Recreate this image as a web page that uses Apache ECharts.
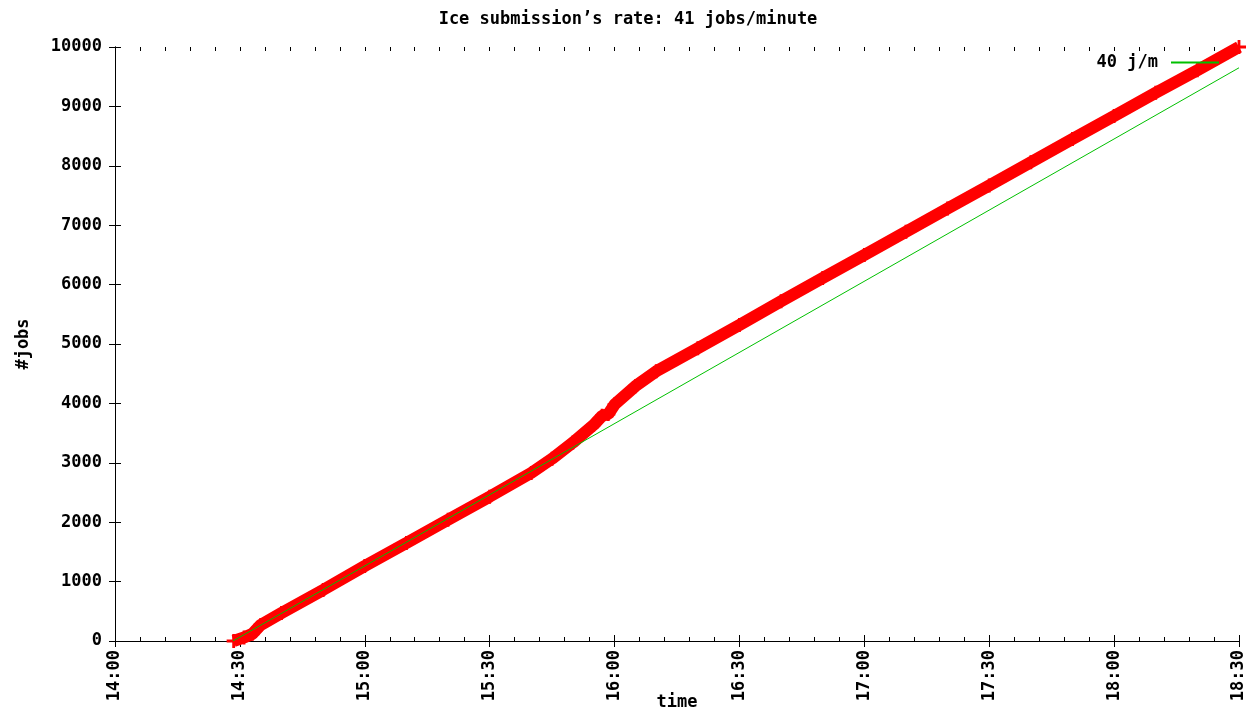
<!DOCTYPE html>
<html>
<head>
<meta charset="utf-8">
<script src="https://cdn.jsdelivr.net/npm/echarts@6/dist/echarts.min.js"></script>
<style>
html,body{margin:0;padding:0;background:#fff;}
#chart{width:1256px;height:711px;}
</style>
</head>
<body>
<div id="chart"></div>
<script>
// ---- data ----
const titleText = "Ice submission\u2019s rate: 41 jobs/minute";
const xTickLabels = ['14:00','14:30','15:00','15:30','16:00','16:30','17:00','17:30','18:00','18:30'];
const yTickLabels = ['0','1000','2000','3000','4000','5000','6000','7000','8000','9000','10000'];

// measured jobs submitted (red "+" points)
const jobTimes = ['14:28:30','14:31:00','14:33:00','14:35:00','14:40:00','14:50:00','15:00:00','15:10:00',
  '15:20:00','15:30:00','15:40:00','15:45:00','15:50:00','15:55:00','15:57:00','15:58:30','16:00:00',
  '16:05:00','16:10:00','16:20:00','16:30:00','16:40:00','16:50:00','17:00:00','17:10:00','17:20:00',
  '17:30:00','17:40:00','17:50:00','18:00:00','18:10:00','18:20:00','18:30:00'];
const jobCounts = [0,60,120,270,470,860,1263,1650,
  2040,2430,2830,3070,3340,3640,3790,3820,3980,
  4290,4540,4930,5320,5720,6110,6500,6890,7280,
  7670,8060,8450,8840,9230,9610,10000];

// fitted line "40 j/m"
const fitName = '40 j/m';
const fitTimes = ['14:28:20','18:30:00'];
const fitCounts = [0,9650];

// ---- helpers ----
function toMin(t){ const p=t.split(':').map(Number); return (p[0]-14)*60+p[1]+(p[2]||0)/60; }

const jobData = jobTimes.map((t,i)=>[toMin(t), jobCounts[i]]);
const fitData = fitTimes.map((t,i)=>[toMin(t), fitCounts[i]]);

const FONT = '"DejaVu Sans Mono", "Liberation Mono", monospace';
const lbl = {fontFamily: FONT, fontWeight: 'bold', fontSize: 17, color: '#000'};
const axisLine = {show: true, lineStyle: {color: '#000', width: 1}};
const majorTick = {show: true, inside: true, length: 6, lineStyle: {color: '#000'}};
const minorTickAxis = (pos) => ({
  type: 'value', position: pos, min: 0, max: 270, interval: 6,
  axisLine: {show: false},
  axisTick: {show: true, inside: true, length: 4, lineStyle: {color: '#000'}},
  axisLabel: {show: false}, splitLine: {show: false}
});

const chart = echarts.init(document.getElementById('chart'), null, {renderer: 'canvas'});
chart.setOption({
  backgroundColor: '#fff',
  animation: false,
  title: {
    text: titleText, left: 'center', top: 6,
    textStyle: Object.assign({}, lbl, {fontSize: 17})
  },
  legend: {
    data: [{name: fitName, icon: 'rect'}],
    right: 32, top: 49,
    align: 'right',
    itemWidth: 48, itemHeight: 2, itemGap: 10,
    textStyle: Object.assign({}, lbl, {padding: [0, 8, 0, 0]}),
    selectedMode: false
  },
  grid: {left: 115, right: 17, top: 47, bottom: 70, containLabel: false, outerBoundsMode: 'none'},
  xAxis: [{
    type: 'value', min: 0, max: 270, interval: 30,
    name: 'time', nameLocation: 'middle', nameGap: 53, nameMoveOverlap: false,
    nameTextStyle: lbl,
    axisLine: axisLine,
    axisTick: majorTick,
    axisLabel: Object.assign({}, lbl, {rotate: 90, margin: 9,
      formatter: v => xTickLabels[Math.round(v/30)]}),
    splitLine: {show: false}
  },{
    type: 'value', position: 'top', min: 0, max: 270, interval: 30,
    axisLine: axisLine,
    axisTick: majorTick,
    axisLabel: {show: false}, splitLine: {show: false}
  },
  minorTickAxis('bottom'),
  minorTickAxis('top')
  ],
  yAxis: [{
    type: 'value', min: 0, max: 10000, interval: 1000,
    name: '#jobs', nameLocation: 'middle', nameGap: 83, nameRotate: 90, nameMoveOverlap: false,
    nameTextStyle: lbl,
    axisLine: axisLine,
    axisTick: majorTick,
    axisLabel: Object.assign({}, lbl, {margin: 13,
      formatter: v => yTickLabels[Math.round(v/1000)]}),
    splitLine: {show: false}
  },{
    type: 'value', position: 'right', min: 0, max: 10000, interval: 1000,
    axisLine: axisLine,
    axisTick: majorTick,
    axisLabel: {show: false}, splitLine: {show: false}
  }],
  series: [{
    name: 'jobs', type: 'line', data: jobData,
    xAxisIndex: 0, yAxisIndex: 0,
    lineStyle: {color: '#ff0000', width: 12},
    itemStyle: {color: '#ff0000'},
    symbol: 'path://M4,0h2v10h-2zM0,4h10v2h-10z', symbolSize: 14,
    showSymbol: true, z: 2
  },{
    name: fitName, type: 'line', data: fitData,
    xAxisIndex: 0, yAxisIndex: 0,
    lineStyle: {color: '#00c000', width: 1},
    itemStyle: {color: '#00c000'},
    symbol: 'none', z: 3
  }]
});
</script>
</body>
</html>
